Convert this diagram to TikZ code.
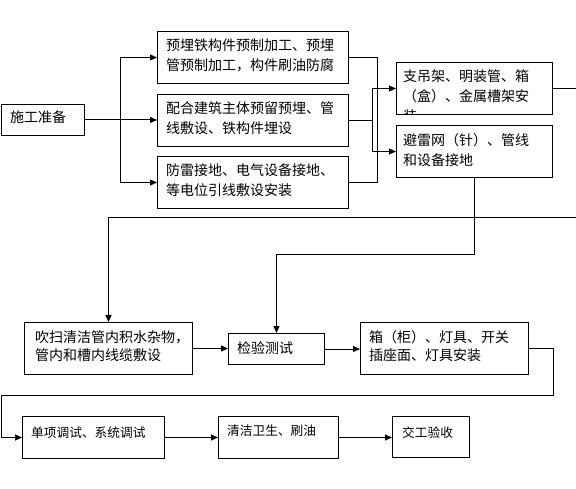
\documentclass[tikz,border=0pt]{standalone}
\usepackage{fontspec}
\usepackage{tikz}
\usetikzlibrary{arrows.meta}
\newfontfamily\cjk{Noto Sans CJK SC}
\tikzset{
	box/.style={draw, line width=1pt, inner sep=0pt, anchor=north west},
	txt/.style={inner sep=0pt, anchor=base west, text width=200pt, align=left, font=\cjk\fontsize{14}{20}\selectfont},
	tight/.style={font=\cjk\fontsize{14}{18}\selectfont},
	small/.style={font=\cjk\fontsize{12.7}{18}\selectfont},
	link/.style={line width=1pt},
	arr/.style={line width=1pt, -{Triangle[length=7pt,width=6pt]}},
}

\begin{document}
\begin{tikzpicture}[x=1pt,y=-1pt]
			\useasboundingbox (0,0) rectangle (576,489);
			\node[box, minimum width=83pt, minimum height=31pt] (prep) at (1,104) {};
			\node[box, minimum width=191pt, minimum height=52pt] (bA) at (157,31) {};
			\node[box, minimum width=191pt, minimum height=52pt] (bB) at (157,94) {};
			\node[box, minimum width=191pt, minimum height=52pt] (bC) at (157,156) {};
			\node[box, minimum width=156pt, minimum height=52pt] (bD) at (396,62) {};
			\node[box, minimum width=156pt, minimum height=52pt] (bE) at (396,125) {};
			\node[box, minimum width=168pt, minimum height=52pt] (bF) at (24,322) {};
			\node[box, minimum width=96pt, minimum height=31pt] (bG) at (228,333) {};
			\node[box, minimum width=168pt, minimum height=52pt] (bH) at (360,322) {};
			\node[box, minimum width=142pt, minimum height=42pt] (bI) at (22,416) {};
			\node[box, minimum width=120pt, minimum height=42pt] (bJ) at (218,416) {};
			\node[box, minimum width=77pt, minimum height=41pt] (bK) at (392,416) {};

			\node[txt] (tprep) at ([shift={(9pt,-19pt)}]prep.north west) {施工准备};
			\node[txt] (tA) at ([shift={(9pt,-20pt)}]bA.north west) {预埋铁构件预制加工、预埋\\管预制加工，构件刷油防腐};
			\node[txt] (tB) at ([shift={(9pt,-20pt)}]bB.north west) {配合建筑主体预留预埋、管\\线敷设、铁构件埋设};
			\node[txt] (tC) at ([shift={(9pt,-20pt)}]bC.north west) {防雷接地、电气设备接地、\\等电位引线敷设安装};
			\begin{scope}
				\clip (bD.north west) rectangle (bD.south east);
				\node[txt] (tD) at ([shift={(7pt,-20pt)}]bD.north west) {支吊架、明装管、箱\\（盒）、金属槽架安\\装};
			\end{scope}
			\node[txt] (tE) at ([shift={(7pt,-21pt)}]bE.north west) {避雷网（针）、管线\\和设备接地};
			\node[txt, tight] (tF) at ([shift={(11pt,-20pt)}]bF.north west) {吹扫清洁管内积水杂物，\\管内和槽内线缆敷设};
			\node[txt] (tG) at ([shift={(9pt,-20pt)}]bG.north west) {检验测试};
			\node[txt, tight] (tH) at ([shift={(9pt,-20pt)}]bH.north west) {箱（柜）、灯具、开关\\插座面、灯具安装};
			\node[txt, small] (tI) at ([shift={(9pt,-21pt)}]bI.north west) {单项调试、系统调试};
			\node[txt, small] (tJ) at ([shift={(9pt,-19pt)}]bJ.north west) {清洁卫生、刷油};
			\node[txt, small] (tK) at ([shift={(10pt,-21pt)}]bK.north west) {交工验收};

			\coordinate (xa) at (120,0);
			\coordinate (xb) at (377,0);
			\coordinate (xc) at (372,0);
			\coordinate (xr) at (576,0);
			\coordinate (xh) at (553,0);
			\coordinate (xl) at (1,0);
			\coordinate (ya) at (0,218);
			\coordinate (yb) at (0,255);
			\coordinate (yh) at (0,395);

			\draw[link] (prep.east) -- (prep.east -| xa);
			\draw[arr] (prep.east -| xa) |- (bA.west);
			\draw[arr] (prep.east -| xa) -- (prep.east -| bB.west);
			\draw[arr] (prep.east -| xa) |- (bC.west);
			\draw[link] (bA.east) -- (bA.east -| xb) -- (bC.east -| xb) -- (bC.east);
			\draw[link] (bB.east) -- (bB.east -| xc);
			\draw[arr] (bB.east -| xc) |- (bD.west);
			\draw[arr] (bB.east -| xc) |- (bE.west);
			\draw[link] (bD.east) -- (bD.east -| xr);
			\draw[arr] (xr |- ya) -| (bF.north);
			\draw[arr] (bE.south) -- (bE.south |- yb) -| (bG.north);
			\draw[arr] (bF.east) -- (bF.east -| bG.west);
			\draw[arr] (bG.east) -- (bG.east -| bH.west);
			\draw[arr] (bH.east) -- (bH.east -| xh) -- (xh |- yh) -- (xl |- yh) |- (bI.west);
			\draw[arr] (bI.east) -- (bJ.west);
			\draw[arr] (bJ.east) -- (bJ.east -| bK.west);
		\end{tikzpicture}
\end{document}
